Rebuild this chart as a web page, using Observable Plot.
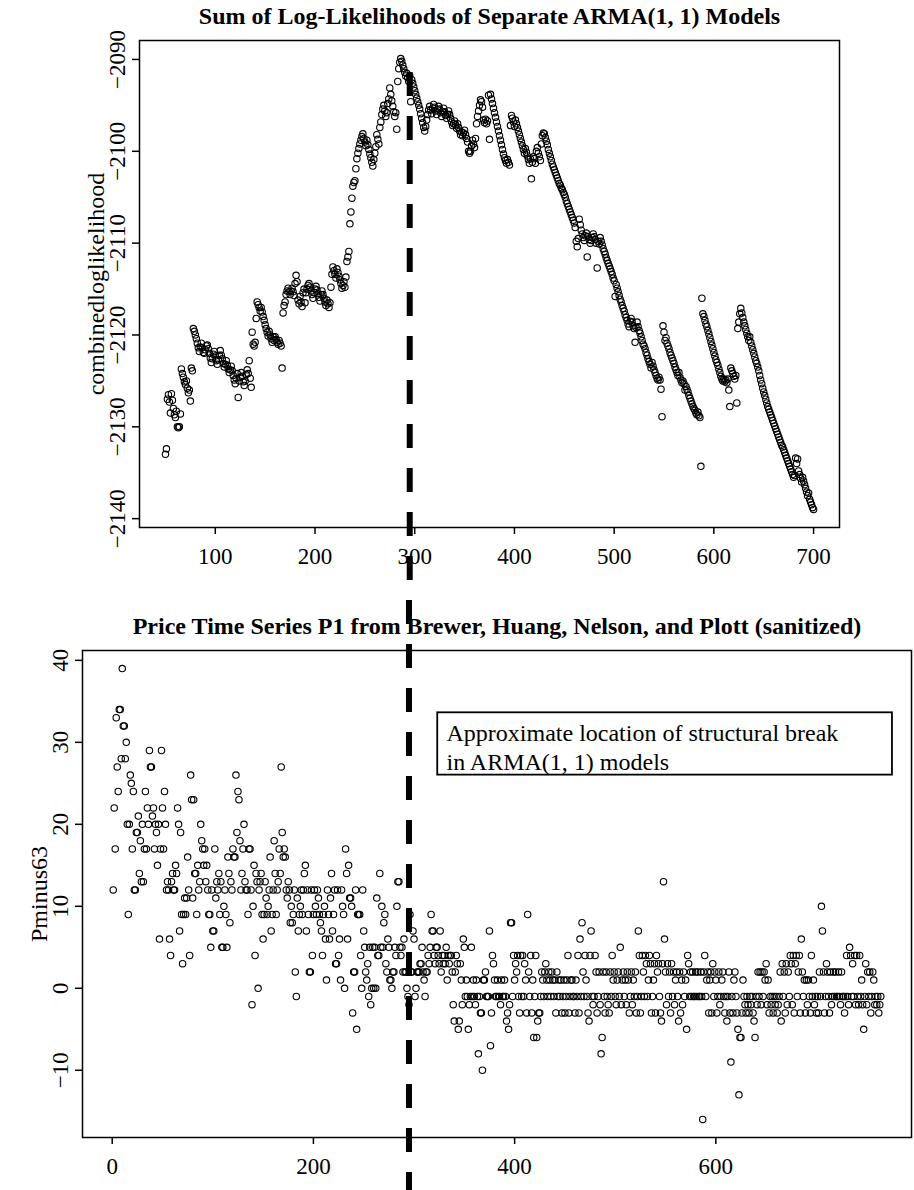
<!DOCTYPE html>
<html>
<head>
<meta charset="utf-8">
<script src="https://cdn.jsdelivr.net/npm/d3@7"></script>
<script src="https://cdn.jsdelivr.net/npm/@observablehq/plot@0.6"></script>
<style>
html, body { margin: 0; padding: 0; background: #fff; }
#chart svg { display: block; }
</style>
</head>
<body>
<div id="chart"></div>
<script>
// ---------------- data ----------------
const firstBreak = 50;
const combinedloglikelihood = [
-2133.0,-2132.4,-2127.0,-2126.5,-2127.3,-2128.5,-2126.4,-2127.1,-2128.0,-2128.7,
-2129.0,-2128.3,-2130.0,-2130.1,-2130.0,-2128.6,-2123.7,-2124.2,-2124.6,-2125.1,
-2125.4,-2125.0,-2125.8,-2126.3,-2126.0,-2127.2,-2123.6,-2123.9,-2119.3,-2119.6,
-2120.0,-2120.4,-2120.9,-2121.4,-2121.8,-2121.3,-2120.9,-2121.4,-2121.9,-2122.0,
-2121.6,-2121.2,-2121.1,-2121.5,-2122.0,-2122.5,-2123.0,-2122.6,-2122.1,-2121.8,
-2122.3,-2122.8,-2123.2,-2122.7,-2122.2,-2121.7,-2122.2,-2122.6,-2123.1,-2123.5,
-2123.2,-2122.8,-2123.3,-2123.7,-2124.1,-2123.8,-2123.4,-2123.9,-2124.4,-2124.9,
-2125.3,-2124.7,-2124.2,-2126.8,-2125.0,-2124.6,-2124.1,-2124.5,-2125.1,-2125.5,
-2125.0,-2124.3,-2123.8,-2124.2,-2122.8,-2124.7,-2125.7,-2119.7,-2121.0,-2121.2,
-2120.8,-2118.2,-2116.4,-2116.7,-2117.0,-2117.4,-2117.0,-2117.5,-2118.0,-2118.4,
-2118.9,-2119.3,-2119.7,-2120.1,-2119.6,-2120.0,-2120.4,-2120.8,-2120.2,-2120.6,
-2120.2,-2120.5,-2120.8,-2121.0,-2120.6,-2120.9,-2121.2,-2123.6,-2117.6,-2116.8,
-2116.4,-2115.6,-2115.2,-2114.9,-2115.3,-2115.6,-2115.2,-2114.9,-2115.3,-2115.7,
-2114.4,-2113.5,-2114.2,-2116.2,-2116.6,-2115.8,-2116.4,-2116.9,-2115.4,-2115.0,
-2116.5,-2115.4,-2115.0,-2114.6,-2114.4,-2114.8,-2115.2,-2115.6,-2116.0,-2115.4,
-2115.0,-2114.7,-2115.1,-2115.5,-2115.9,-2116.3,-2115.6,-2115.2,-2115.6,-2116.0,
-2116.4,-2116.8,-2116.2,-2116.6,-2117.0,-2116.5,-2114.8,-2113.4,-2112.6,-2113.0,
-2113.4,-2113.8,-2112.8,-2113.2,-2113.6,-2114.0,-2114.4,-2114.9,-2114.6,-2114.2,
-2114.8,-2113.7,-2112.0,-2111.5,-2110.9,-2107.9,-2106.6,-2105.1,-2103.8,-2103.4,
-2103.2,-2101.9,-2100.8,-2100.2,-2099.7,-2099.2,-2098.8,-2098.4,-2098.1,-2098.6,
-2099.0,-2099.4,-2098.8,-2099.3,-2099.8,-2100.3,-2100.7,-2101.2,-2101.6,-2100.9,
-2100.2,-2099.5,-2098.2,-2098.7,-2099.2,-2097.4,-2096.8,-2096.0,-2095.4,-2095.0,
-2095.6,-2096.2,-2095.8,-2094.8,-2094.3,-2093.1,-2093.8,-2094.5,-2095.1,-2095.7,
-2096.2,-2095.8,-2097.6,-2092.4,-2091.0,-2090.3,-2089.9,-2090.2,-2090.6,-2091.0,
-2091.4,-2091.8,-2091.5,-2092.0,-2092.4,-2091.8,-2094.6,-2092.2,-2092.6,-2093.0,
-2093.4,-2093.8,-2094.2,-2094.6,-2095.0,-2095.4,-2095.9,-2096.4,-2096.9,-2097.4,
-2097.8,-2097.3,-2096.6,-2096.0,-2095.5,-2095.1,-2095.5,-2095.9,-2095.3,-2094.9,
-2095.2,-2095.6,-2096.0,-2095.5,-2095.1,-2095.4,-2095.8,-2096.2,-2095.7,-2095.3,
-2095.7,-2096.1,-2096.4,-2096.0,-2095.6,-2096.0,-2096.4,-2096.8,-2097.2,-2097.0,
-2096.7,-2097.1,-2097.5,-2097.0,-2097.4,-2097.8,-2098.2,-2097.9,-2098.3,-2098.0,
-2097.7,-2098.2,-2098.6,-2099.0,-2100.0,-2100.2,-2100.0,-2099.4,-2098.8,-2099.2,
-2099.6,-2098.6,-2097.0,-2096.2,-2095.6,-2095.0,-2094.4,-2094.6,-2095.2,-2096.6,
-2096.9,-2096.5,-2097.0,-2096.7,-2093.9,-2098.7,-2093.8,-2094.3,-2094.8,-2095.3,
-2095.8,-2096.3,-2096.8,-2097.3,-2097.8,-2098.3,-2098.8,-2099.3,-2099.8,-2100.3,
-2100.7,-2101.0,-2101.3,-2100.9,-2101.2,-2101.5,-2097.2,-2096.1,-2096.4,-2096.8,
-2097.3,-2096.6,-2097.0,-2097.4,-2097.8,-2098.2,-2098.6,-2099.0,-2099.4,-2099.8,
-2100.2,-2099.7,-2100.1,-2100.5,-2100.9,-2101.3,-2100.8,-2103.0,-2101.2,-2100.6,
-2100.8,-2101.3,-2100.0,-2099.6,-2100.2,-2100.6,-2101.0,-2099.2,-2098.3,-2098.0,
-2098.1,-2098.5,-2098.9,-2099.3,-2099.8,-2100.2,-2100.6,-2101.0,-2101.4,-2101.7,
-2102.0,-2102.3,-2102.6,-2102.9,-2103.2,-2103.5,-2103.7,-2104.0,-2104.2,-2104.5,
-2104.7,-2105.0,-2105.4,-2105.7,-2106.0,-2106.3,-2106.6,-2106.9,-2107.2,-2107.5,
-2107.8,-2108.3,-2109.8,-2110.4,-2109.5,-2107.4,-2108.0,-2108.6,-2109.0,-2109.4,
-2109.7,-2109.2,-2108.9,-2111.5,-2109.3,-2109.6,-2110.0,-2109.7,-2109.4,-2109.0,
-2109.3,-2109.6,-2110.0,-2112.7,-2109.8,-2110.1,-2109.4,-2109.8,-2110.2,-2110.6,
-2110.9,-2111.2,-2111.6,-2111.9,-2112.2,-2112.5,-2112.8,-2113.1,-2113.4,-2113.8,
-2114.1,-2115.8,-2114.5,-2114.9,-2115.3,-2115.7,-2116.1,-2116.4,-2116.8,-2117.1,
-2117.4,-2117.8,-2118.1,-2118.4,-2118.8,-2119.1,-2118.5,-2118.2,-2118.6,-2119.0,
-2119.3,-2120.8,-2119.2,-2118.6,-2119.1,-2119.5,-2119.8,-2120.2,-2120.6,-2121.0,
-2121.2,-2121.5,-2121.9,-2122.2,-2122.6,-2122.9,-2123.2,-2123.6,-2123.0,-2123.4,
-2123.8,-2124.1,-2124.4,-2124.7,-2124.9,-2124.6,-2124.9,-2125.9,-2128.9,-2119.0,
-2119.7,-2120.6,-2120.3,-2120.9,-2121.2,-2121.5,-2121.9,-2122.2,-2122.5,-2122.8,
-2123.1,-2123.5,-2123.8,-2124.1,-2124.4,-2124.1,-2124.6,-2124.9,-2125.2,-2125.0,
-2125.3,-2126.0,-2125.6,-2125.9,-2126.2,-2126.6,-2126.9,-2127.2,-2127.5,-2127.8,
-2128.0,-2128.2,-2128.5,-2128.7,-2128.4,-2128.8,-2129.0,-2134.3,-2116.0,-2117.7,
-2118.0,-2118.4,-2118.8,-2119.1,-2119.5,-2119.9,-2120.3,-2120.7,-2121.1,-2121.5,
-2121.9,-2122.3,-2122.7,-2123.0,-2123.3,-2123.7,-2124.1,-2124.5,-2124.8,-2125.0,
-2124.8,-2125.1,-2124.9,-2125.2,-2124.8,-2126.0,-2127.8,-2123.6,-2123.9,-2124.2,
-2124.5,-2124.8,-2124.4,-2127.4,-2119.3,-2118.6,-2117.7,-2117.1,-2117.6,-2118.1,
-2118.6,-2119.0,-2119.4,-2119.8,-2120.2,-2120.6,-2120.2,-2120.8,-2121.2,-2121.6,
-2122.0,-2122.4,-2122.8,-2123.1,-2123.5,-2123.9,-2124.4,-2124.9,-2125.3,-2125.8,
-2126.2,-2126.6,-2127.0,-2127.4,-2127.8,-2128.1,-2128.4,-2128.7,-2129.0,-2129.3,
-2129.6,-2129.9,-2130.2,-2130.5,-2130.8,-2131.1,-2131.4,-2131.7,-2132.0,-2132.2,
-2132.5,-2132.8,-2133.1,-2133.4,-2133.7,-2134.0,-2134.3,-2134.6,-2134.9,-2135.2,
-2135.5,-2135.3,-2133.4,-2134.0,-2133.5,-2134.8,-2135.2,-2135.6,-2136.0,-2135.5,
-2135.9,-2136.3,-2136.7,-2137.1,-2137.5,-2137.2,-2137.9,-2138.2,-2138.5,-2138.8,
-2139.0
];
const breakPoints = d3.range(firstBreak, firstBreak + combinedloglikelihood.length);

const Pminus63 = [
12,22,17,33,27,24,34,34,28,39,32,32,28,30,20,9,20,26,25,17,
24,12,12,19,19,21,14,18,13,20,13,17,24,17,22,20,29,27,27,21,
22,17,20,19,15,20,6,17,29,22,17,24,20,12,13,12,6,4,13,14,
12,12,15,14,22,20,7,19,9,3,9,11,9,11,16,12,4,26,23,11,
23,14,14,9,15,12,13,20,18,17,15,17,13,15,12,9,9,5,12,7,
7,17,11,13,12,14,9,13,5,5,10,12,9,5,16,14,8,13,12,17,
16,16,26,19,24,23,18,12,14,17,20,13,12,12,9,17,17,12,-2,10,
15,4,14,13,0,12,13,14,9,6,9,13,11,9,10,12,16,7,9,12,
18,14,9,12,13,17,14,27,19,16,17,16,12,11,13,12,8,10,8,9,
12,2,-1,11,7,9,10,12,9,12,14,15,7,12,9,2,2,12,4,9,
12,10,9,12,11,9,8,7,4,9,10,6,1,12,9,6,11,14,7,9,
12,3,3,12,4,6,1,12,10,9,0,17,14,6,15,11,11,10,-3,2,
2,12,-5,9,9,9,4,0,12,7,5,2,1,3,-1,5,-2,0,5,0,
5,0,11,4,4,14,5,10,5,8,9,3,2,6,5,1,1,0,2,2,
5,4,10,13,13,5,4,5,2,6,2,2,0,-1,-2,9,2,2,7,6,
-1,0,2,2,2,3,3,5,2,1,-1,2,2,4,3,5,9,7,7,4,
3,5,5,4,3,7,2,4,3,4,3,5,1,4,3,4,4,2,-2,-4,
2,4,3,-5,-4,3,1,-2,6,5,-1,1,-1,-5,-2,-1,5,-1,1,-1,
-2,1,-1,-8,-1,-3,-3,-10,1,1,2,-1,-1,-1,7,-7,-3,4,3,1,
-1,-1,1,-1,-1,-2,1,-1,-1,1,-1,-4,-3,-5,-2,8,8,-1,4,1,
3,2,4,-1,-3,4,-1,4,-1,3,1,-3,9,2,-1,4,-3,1,-6,-1,
4,-6,-4,-3,-3,-1,2,1,-1,2,3,1,-1,2,1,-1,2,1,-1,1,
-3,2,-1,1,-1,1,-3,-1,1,-3,-1,1,4,-3,-1,1,1,-1,-1,-3,
1,-1,4,-3,6,-1,8,2,-1,4,1,-1,-3,-4,4,7,-1,-2,-1,4,
2,-3,-1,2,-2,-8,-6,2,-1,-3,2,-1,-2,-3,2,-1,4,1,2,-1,
-2,1,2,-1,5,-2,1,2,-1,1,-2,2,1,-3,-1,2,-2,1,-1,2,
-3,-1,7,4,-3,-1,4,2,-1,4,3,-1,1,4,3,-3,-1,1,3,-3,
4,2,3,-1,-3,-4,3,13,6,2,-2,3,-1,2,-3,3,-1,2,-2,1,
2,-1,-4,2,-3,1,-2,2,-1,1,-5,4,3,-1,2,-1,2,-1,-1,2,
-1,2,-1,-1,2,-1,-16,2,4,-1,1,2,-3,1,2,-3,3,-1,2,1,
-3,-1,2,-2,-1,1,2,-1,-3,-1,-4,-1,2,-3,-9,-1,-3,1,2,-1,
-3,-5,-13,-6,-6,-3,1,-1,-2,-3,-1,-2,-3,-1,-2,-1,-3,-4,-6,-1,
-2,2,-1,2,-2,2,-1,2,1,3,-2,1,-3,-1,-2,-1,-3,-1,-2,-1,
-3,-2,-1,2,-4,3,-1,2,-3,3,-2,2,-1,4,3,-2,4,-3,3,4,
-1,2,4,-3,6,2,-1,1,-3,1,-2,1,-1,-3,4,-1,1,-2,-1,-3,
-1,-3,2,-1,10,7,2,-3,-1,3,2,-1,-3,2,-2,-1,2,-1,2,-1,
-1,2,-1,-2,2,-1,-1,-3,-1,4,-1,-2,5,4,-1,3,-1,4,-2,4,
-1,-2,4,-1,1,-2,-5,-1,3,-2,2,-1,2,-3,-1,2,1,-2,-1,-2,
-1,-3,-2,-1
];
const periods = d3.range(1, Pminus63.length + 1);

const topTitle = "Sum of Log-Likelihoods of Separate ARMA(1, 1) Models";
const bottomTitle = "Price Time Series P1 from Brewer, Huang, Nelson, and Plott (sanitized)";
const topYLabel = "combinedloglikelihood";
const bottomYLabel = "Pminus63";
const topXTicks = [100, 200, 300, 400, 500, 600, 700];
const topYTicks = [-2140, -2130, -2120, -2110, -2100, -2090];
const bottomXTicks = [0, 200, 400, 600];
const bottomYTicks = [-10, 0, 10, 20, 30, 40];
const structuralBreak = 295;
const noteLines = ["Approximate location of structural break", "in ARMA(1, 1) models"];
// note box corners in the lower panel's data units
const noteLeft = 323.6, noteRight = 775.6, noteTop = 33.6, noteBottom = 26.0, noteTextX = 332.3;

// ---------------- layout ----------------
const W = 914, H = 595;
const FONT = "Liberation Serif";
const FS = 24;      // titles, labels, note
const TICK_FS = 23; // tick labels
const fmt = d => (d < 0 ? "\u2212" : "") + Math.abs(d);
function rRange(values) {
  const [lo, hi] = d3.extent(values);
  const pad = (hi - lo) * 0.04;
  return [lo - pad, hi + pad];
}
function pxToValue(domain, m, px) {
  return domain[1] - (px - m.top) / (H - m.top - m.bottom) * (domain[1] - domain[0]);
}
const dashPattern = "24,20";
const dashStartPx = 72;

const topM = {top: 40, right: 75, bottom: 68, left: 139};
const botM = {top: 55, right: 3, bottom: 53, left: 82};

const topXDomain = rRange(breakPoints);
const topYDomain = rRange(combinedloglikelihood);
const botXDomain = rRange(periods);
const botYDomain = rRange(Pminus63);

const common = {
  width: W, height: H,
  style: {fontFamily: FONT, fontSize: FS + "px", color: "black", background: "white"}
};

function axes(xTicks, yTicks) {
  return [
    Plot.axisX({ticks: xTicks, tickFormat: fmt, tickSize: 7, tickPadding: 13, strokeWidth: 1.5, label: null, fontSize: TICK_FS}),
    Plot.axisY({ticks: yTicks, tickFormat: fmt, tickSize: 7, tickPadding: 8, tickRotate: -90, strokeWidth: 1.5, label: null, fontSize: TICK_FS})
  ];
}

const topPlot = Plot.plot({
  ...common,
  marginTop: topM.top, marginRight: topM.right, marginBottom: topM.bottom, marginLeft: topM.left,
  x: {domain: topXDomain, axis: null},
  y: {domain: topYDomain, axis: null},
  marks: [
    Plot.frame({stroke: "black", strokeWidth: 1.5}),
    ...axes(topXTicks, topYTicks),
    Plot.dot(combinedloglikelihood, {x: (d, i) => breakPoints[i], y: d => d, r: 3.2, stroke: "black", strokeWidth: 1.1, fill: "none"}),
    Plot.text([topTitle], {text: d => d, frameAnchor: "top", textAnchor: "middle", dy: -17, lineAnchor: "bottom", fontWeight: "bold", fontSize: FS}),
    Plot.text([topYLabel], {text: d => d, frameAnchor: "left", textAnchor: "middle", dx: -43, rotate: -90, fontSize: FS}),
    Plot.ruleX([structuralBreak], {
      y1: pxToValue(topYDomain, topM, dashStartPx),
      y2: pxToValue(topYDomain, topM, H),
      stroke: "black", strokeWidth: 6, strokeDasharray: dashPattern
    })
  ]
});

const bottomPlot = Plot.plot({
  ...common,
  marginTop: botM.top, marginRight: botM.right, marginBottom: botM.bottom, marginLeft: botM.left,
  x: {domain: botXDomain, axis: null},
  y: {domain: botYDomain, axis: null},
  marks: [
    Plot.frame({stroke: "black", strokeWidth: 1.5}),
    ...axes(bottomXTicks, bottomYTicks),
    Plot.dot(Pminus63, {x: (d, i) => periods[i], y: d => d, r: 3.2, stroke: "black", strokeWidth: 1.1, fill: "none"}),
    Plot.rect([0], {x1: () => noteLeft, x2: () => noteRight, y1: () => noteBottom, y2: () => noteTop, fill: "white", stroke: "black", strokeWidth: 1.8}),
    Plot.text([noteLines.join("\n")], {text: d => d, x: () => noteTextX, y: () => noteTop, textAnchor: "start", lineAnchor: "top", dy: 8, lineHeight: 1.2, fontSize: FS}),
    Plot.text([bottomTitle], {text: d => d, frameAnchor: "top", textAnchor: "middle", dy: -17, lineAnchor: "bottom", fontWeight: "bold", fontSize: FS}),
    Plot.text([bottomYLabel], {text: d => d, frameAnchor: "left", textAnchor: "middle", dx: -43, rotate: -90, fontSize: FS}),
    Plot.ruleX([structuralBreak], {
      y1: pxToValue(botYDomain, botM, 0),
      y2: pxToValue(botYDomain, botM, H),
      stroke: "black", strokeWidth: 6, strokeDasharray: dashPattern,
      strokeDashoffset: (H - dashStartPx) % 44
    })
  ]
});

const chart = document.getElementById("chart");
chart.appendChild(topPlot);
chart.appendChild(bottomPlot);
</script>
</body>
</html>
